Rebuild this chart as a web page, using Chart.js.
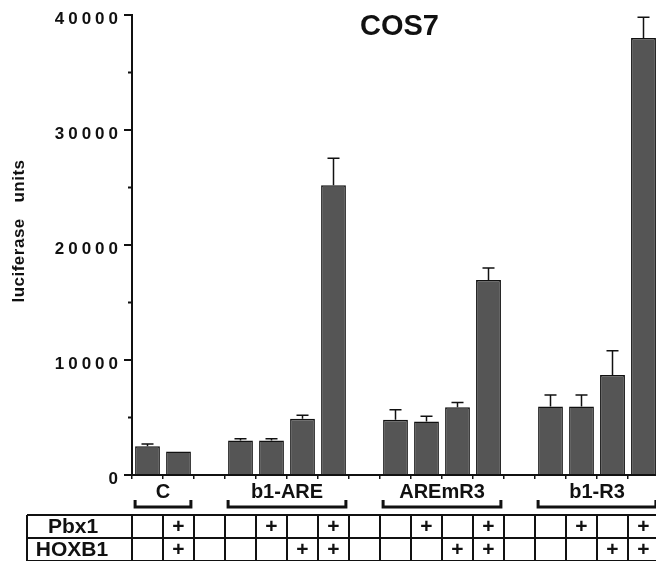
<!DOCTYPE html>
<html>
<head>
<meta charset="utf-8">
<script src="https://cdn.jsdelivr.net/npm/chart.js@4.4.1/dist/chart.umd.min.js"></script>
<style>
  html, body { margin: 0; padding: 0; background: #fff; overflow: hidden; }
  #wrap { width: 662px; height: 561px; }
</style>
</head>
<body>
<div id="wrap"><canvas id="chart" width="662" height="561"></canvas></div>
<script>
// one slot per bar, empty slots separate the reporter groups
const slots = ['C 1', 'C 2', '',
  'b1-ARE 1', 'b1-ARE 2', 'b1-ARE 3', 'b1-ARE 4', '',
  'AREmR3 1', 'AREmR3 2', 'AREmR3 3', 'AREmR3 4', '',
  'b1-R3 1', 'b1-R3 2', 'b1-R3 3', 'b1-R3 4'];
const luciferase = [2500, 2050, null, 3000, 3000, 4900, 25200, null, 4800, 4650, 5900, 16950, null, 5950, 5950, 8700, 38000];
const errUp = [200, 0, null, 150, 150, 300, 2350, null, 870, 450, 400, 1050, null, 1000, 1000, 2100, 1800];

const groupNames = ['C', 'b1-ARE', 'AREmR3', 'b1-R3'];
const groupFirst = [0, 3, 8, 13];
const groupLast = [1, 6, 11, 16];

const pbx1 = [0, 1, 0, 0, 1, 0, 1, 0, 0, 1, 0, 1, 0, 0, 1, 0, 1];
const hoxb1 = [0, 1, 0, 0, 0, 1, 1, 0, 0, 0, 1, 1, 0, 0, 0, 1, 1];

const yMajor = [0, 10000, 20000, 30000, 40000];
const yMinor = [5000, 15000, 25000, 35000];

const FONT = '"Liberation Sans", Arial, Helvetica, sans-serif';

const extras = {
  id: 'extras',
  afterDatasetsDraw(chart) {
    const ctx = chart.ctx;
    const y = chart.scales.y;
    const meta = chart.getDatasetMeta(0);
    // error bars (upper half only)
    ctx.save();
    ctx.strokeStyle = '#111';
    ctx.lineWidth = 1.5;
    meta.data.forEach((bar, i) => {
      if (luciferase[i] == null || !errUp[i]) return;
      const top = y.getPixelForValue(luciferase[i] + errUp[i]);
      ctx.beginPath();
      ctx.moveTo(bar.x, bar.y);
      ctx.lineTo(bar.x, top);
      ctx.moveTo(bar.x - 6, top);
      ctx.lineTo(bar.x + 6, top);
      ctx.stroke();
    });
    ctx.restore();
  },
  afterDraw(chart) {
    const ctx = chart.ctx;
    const area = chart.chartArea;
    const x = chart.scales.x;
    const y = chart.scales.y;
    const meta = chart.getDatasetMeta(0);
    ctx.save();
    ctx.fillStyle = '#111';
    ctx.strokeStyle = '#111';

    // minor y ticks
    ctx.lineWidth = 2;
    yMinor.forEach(v => {
      const py = y.getPixelForValue(v);
      ctx.beginPath();
      ctx.moveTo(area.left - 4, py);
      ctx.lineTo(area.left, py);
      ctx.stroke();
    });

    // y tick labels, tracked out
    ctx.font = 'bold 17px ' + FONT;
    ctx.letterSpacing = '4px';
    ctx.textAlign = 'right';
    ctx.textBaseline = 'middle';
    yMajor.forEach(v => {
      ctx.fillText(String(v), area.left - 10, y.getPixelForValue(v) + 4);
    });
    ctx.letterSpacing = '0px';

    // y axis title
    ctx.save();
    ctx.translate(19, 231);
    ctx.rotate(-Math.PI / 2);
    ctx.font = 'bold 17px ' + FONT;
    ctx.letterSpacing = '0.5px';
    ctx.textAlign = 'center';
    ctx.fillText('luciferase   units', 0, 0);
    ctx.restore();
    ctx.letterSpacing = '0px';

    // title
    ctx.font = 'bold 29px ' + FONT;
    ctx.textAlign = 'center';
    ctx.textBaseline = 'middle';
    ctx.fillText('COS7', (area.left + area.right) / 2 + 4, 27);

    // group labels with brackets
    const labelY = area.bottom + 17;
    const bracketY = area.bottom + 32;
    ctx.font = 'bold 20px ' + FONT;
    ctx.lineWidth = 3;
    groupNames.forEach((name, g) => {
      const a = meta.data[groupFirst[g]];
      const b = meta.data[groupLast[g]];
      const l = a.x - a.width / 2;
      const r = b.x + b.width / 2;
      ctx.fillText(name, (l + r) / 2, labelY);
      ctx.beginPath();
      ctx.moveTo(l, bracketY - 7);
      ctx.lineTo(l, bracketY);
      ctx.lineTo(r, bracketY);
      ctx.lineTo(r, bracketY - 7);
      ctx.stroke();
    });

    // condition table
    const tTop = area.bottom + 40;
    const rowH = 23;
    const tLeft = 27;
    const slotW = (area.right - area.left) / slots.length;
    ctx.lineWidth = 2;
    ctx.beginPath();
    [tTop, tTop + rowH, tTop + 2 * rowH].forEach(py => {
      ctx.moveTo(tLeft, py);
      ctx.lineTo(chart.width, py);
    });
    ctx.moveTo(tLeft, tTop);
    ctx.lineTo(tLeft, tTop + 2 * rowH);
    for (let i = 0; i <= slots.length; i++) {
      const px = x.getPixelForValue(Math.min(i, slots.length - 1)) + (i < slots.length ? -slotW / 2 : slotW / 2);
      ctx.moveTo(px, tTop);
      ctx.lineTo(px, tTop + 2 * rowH);
    }
    ctx.stroke();

    ctx.font = 'bold 21px ' + FONT;
    ctx.fillText('Pbx1', 73, tTop + rowH / 2 + 1);
    ctx.fillText('HOXB1', 72, tTop + rowH * 1.5 + 1);
    slots.forEach((s, i) => {
      const px = x.getPixelForValue(i);
      if (pbx1[i]) ctx.fillText('+', px, tTop + rowH / 2 + 1);
      if (hoxb1[i]) ctx.fillText('+', px, tTop + rowH * 1.5 + 1);
    });
    ctx.restore();
  }
};

new Chart(document.getElementById('chart'), {
  type: 'bar',
  data: {
    labels: slots,
    datasets: [{
      data: luciferase,
      backgroundColor: '#555555',
      borderColor: '#111',
      borderWidth: 1.5,
      barPercentage: 0.8,
      categoryPercentage: 1.0
    }]
  },
  options: {
    responsive: false,
    animation: false,
    layout: { padding: { top: 15, right: 3, left: 0, bottom: 0 } },
    plugins: { legend: { display: false }, title: { display: false }, tooltip: { enabled: false } },
    scales: {
      x: {
        grid: { offset: true, drawOnChartArea: false, drawTicks: true, tickLength: 4, color: '#111', lineWidth: 1.5 },
        border: { display: true, color: '#111', width: 2 },
        ticks: { display: false },
        afterFit: s => { s.height = 86; }
      },
      y: {
        min: 0,
        max: 40000,
        grid: { drawOnChartArea: false, drawTicks: true, tickLength: 8, color: '#111', lineWidth: 2 },
        border: { display: true, color: '#111', width: 2 },
        ticks: { display: false, stepSize: 10000 },
        afterFit: s => { s.width = 132; }
      }
    }
  },
  plugins: [extras]
});
</script>
</body>
</html>
